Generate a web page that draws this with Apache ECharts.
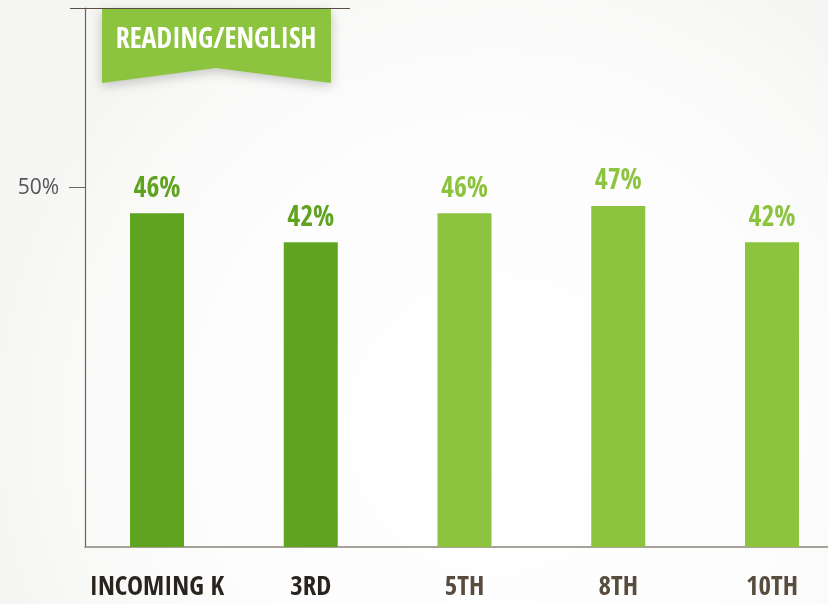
<!DOCTYPE html>
<html>
<head>
<meta charset="utf-8">
<script src="https://cdn.jsdelivr.net/npm/echarts@6/dist/echarts.min.js"></script>
<style>html,body{margin:0;padding:0;}#c{width:828px;height:604px;}</style>
</head>
<body>
<div id="c"></div>
<script>
const categories = ['INCOMING K', '3RD', '5TH', '8TH', '10TH'];
const values = [46, 42, 46, 47, 42];
const highlightCount = 2; // first two shown in darker tone
const yTicks = [50];
const titleText = 'READING/ENGLISH';

const DARK = '#5fa320';
const LIGHT = '#8dc43f';
const condensed = '"Open Sans Condensed", "Roboto Condensed", "DejaVu Sans Condensed", sans-serif';

const chart = echarts.init(document.getElementById('c'), null, {renderer: 'canvas'});
chart.setOption({
  animation: false,
  backgroundColor: {
    type: 'radial', x: 0.6, y: 0.7, r: 0.85,
    colorStops: [{offset: 0, color: '#ffffff'}, {offset: 0.55, color: '#fdfdfd'}, {offset: 0.85, color: '#f9f9f8'}, {offset: 1, color: '#f5f5f4'}]
  },
  grid: [
    {left: 157, right: 56, top: 8, bottom: 57},
    {left: 85, right: 0, top: 8, bottom: 57}
  ],
  xAxis: [
    {
      type: 'category', gridIndex: 0, data: categories, boundaryGap: false,
      axisLine: {show: false}, axisTick: {show: false},
      axisLabel: {
        interval: 0, hideOverlap: false,
        margin: 27, fontFamily: condensed, fontWeight: 'bold', fontSize: 27,
        color: (v, i) => (i < highlightCount ? '#2a241e' : '#574c3d')
      }
    },
    {
      type: 'value', gridIndex: 1, min: 0, max: 1,
      axisLine: {show: true, lineStyle: {color: '#8a847a', width: 1.5}},
      axisTick: {show: false}, axisLabel: {show: false}, splitLine: {show: false}
    }
  ],
  yAxis: [
    {type: 'value', gridIndex: 0, min: 0, max: 74.3, show: false},
    {
      type: 'value', gridIndex: 1, min: 0, max: 75,
      axisLine: {show: true, onZero: false, lineStyle: {color: '#6b6259', width: 1.2}},
      axisTick: {show: true, length: 15, customValues: yTicks, lineStyle: {color: '#6b6259', width: 1}},
      axisLabel: {customValues: yTicks, formatter: '{value}%', margin: 26, fontSize: 21, color: '#555', fontFamily: '"Open Sans", sans-serif'},
      splitLine: {show: false}
    },
    {
      type: 'value', gridIndex: 1, min: 0, max: 75,
      axisLine: {show: false},
      axisTick: {show: true, inside: true, length: 16, customValues: yTicks, lineStyle: {color: '#6b6259', width: 1}},
      axisLabel: {show: false}, splitLine: {show: false}
    }
  ],
  series: [{
    type: 'bar', xAxisIndex: 0, yAxisIndex: 0, barWidth: 54,
    data: values.map((v, i) => ({value: v, itemStyle: {color: i < highlightCount ? DARK : LIGHT},
      label: {color: i < highlightCount ? DARK : LIGHT}})),
    label: {
      show: true, position: 'top', distance: 10,
      formatter: p => p.value + '%',
      fontFamily: condensed, fontWeight: 'bold', fontSize: 28
    }
  }],
  graphic: [
    {type: 'line', shape: {x1: 70, y1: 8.5, x2: 350, y2: 8.5}, style: {stroke: '#5a4f45', lineWidth: 1}, z: 10},
    {
      type: 'polygon', z: 20,
      shape: {points: [[102, 9], [331, 9], [331, 83], [216, 68], [102, 83]]},
      style: {fill: LIGHT, shadowBlur: 12, shadowColor: 'rgba(0,0,0,0.22)', shadowOffsetY: 3}
    },
    {
      type: 'text', z: 21,
      style: {text: titleText, x: 216, y: 41, align: 'center', verticalAlign: 'middle',
        fill: '#ffffff', font: 'bold 28px ' + condensed}
    }
  ]
});
</script>
</body>
</html>
